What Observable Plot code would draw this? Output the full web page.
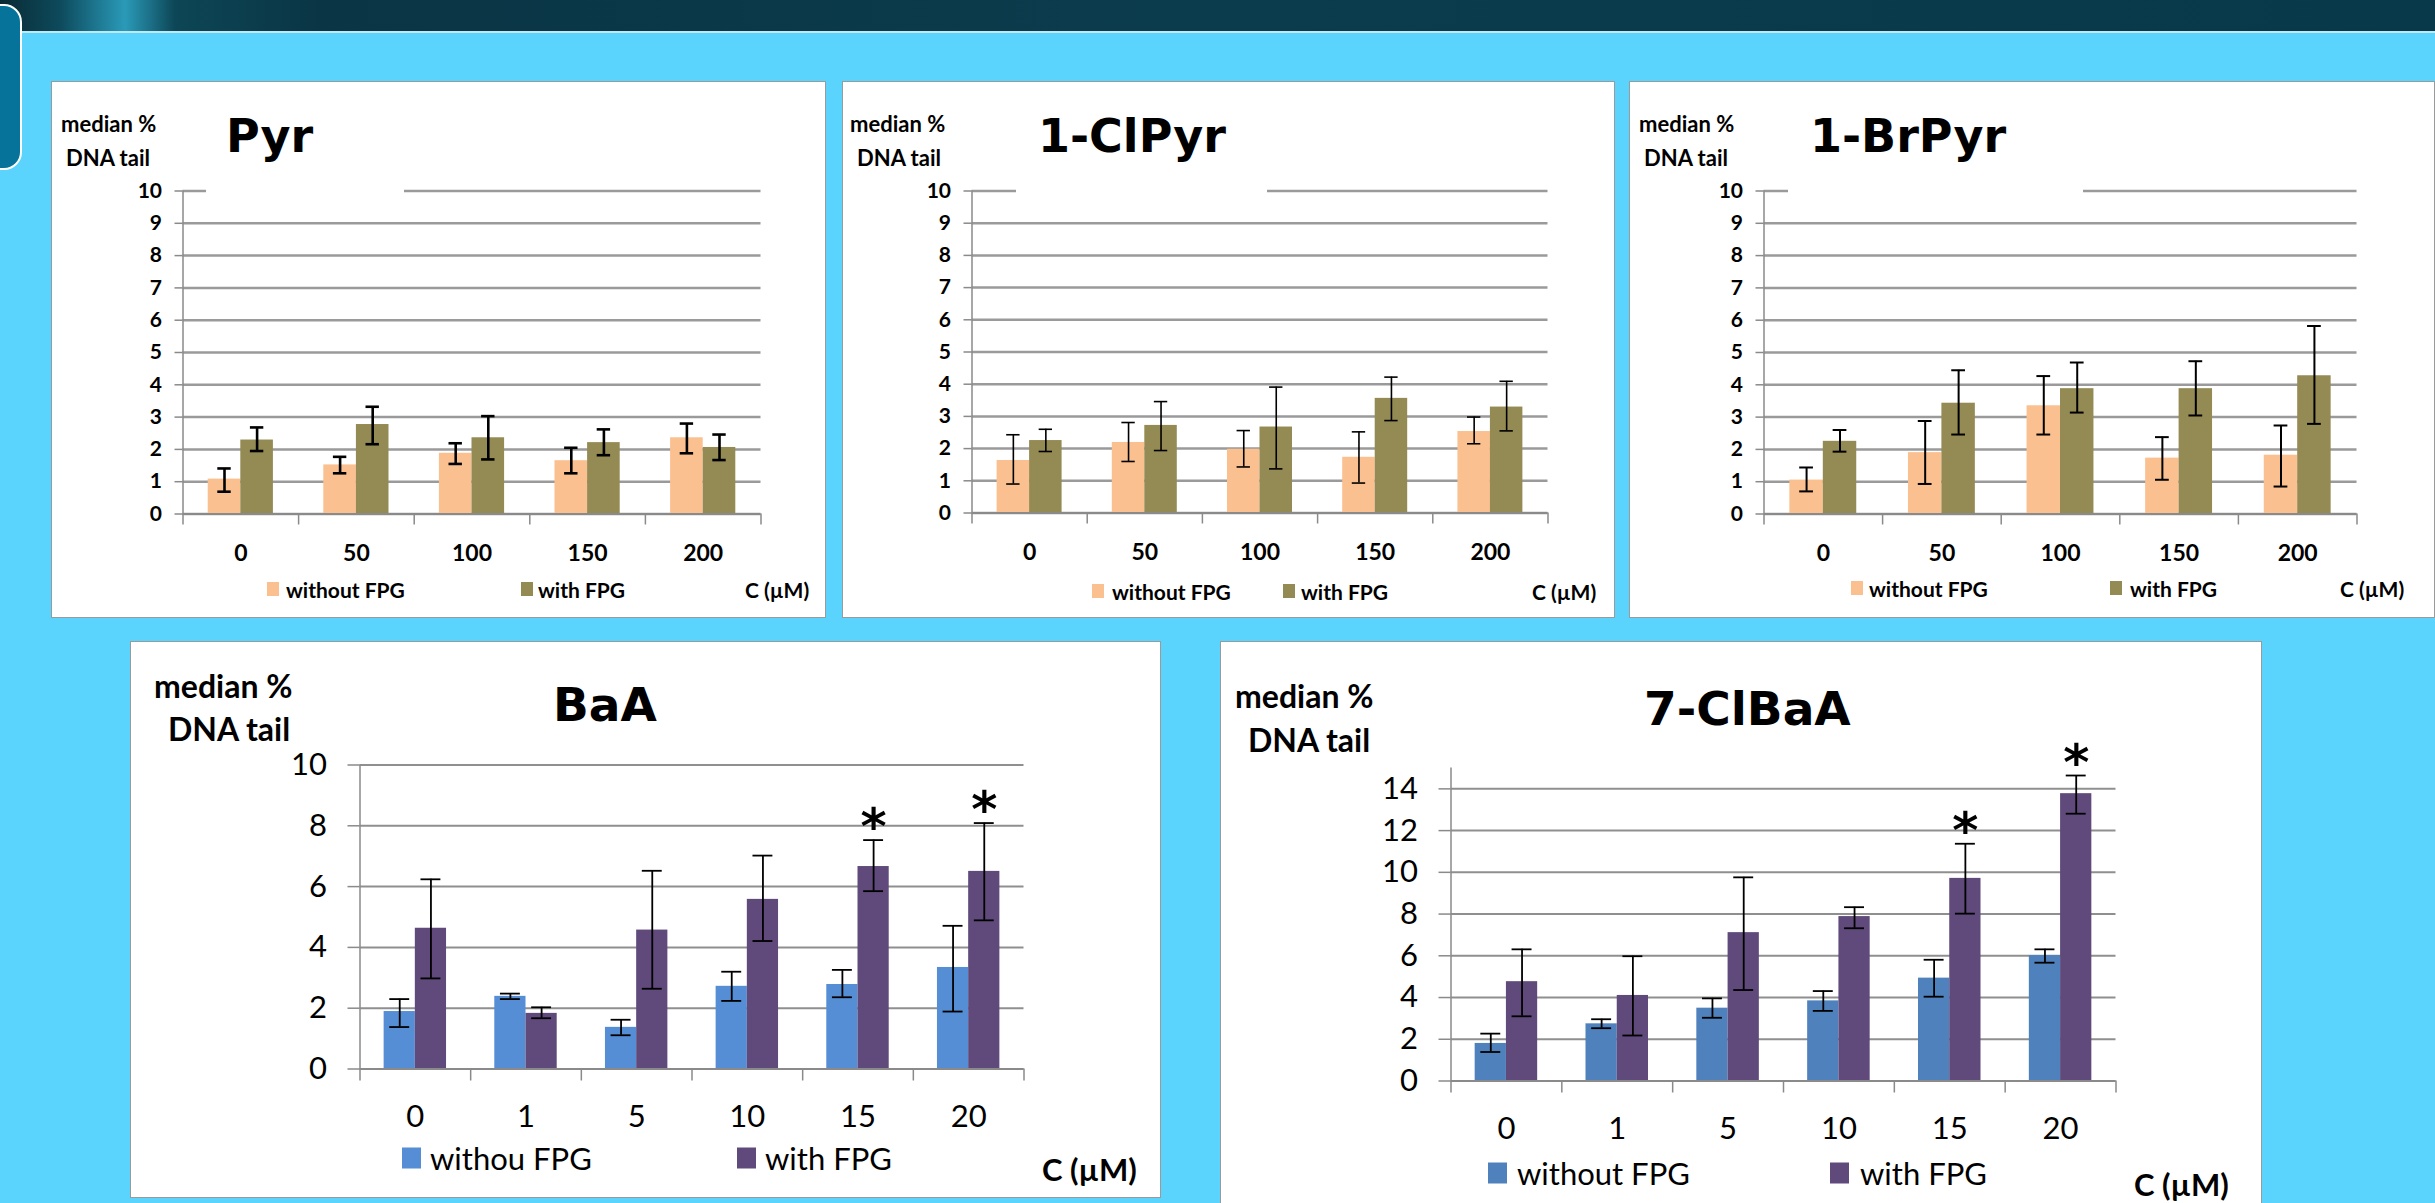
<!DOCTYPE html>
<html><head><meta charset="utf-8">
<script src="https://cdn.jsdelivr.net/npm/d3@7"></script>
<script src="https://cdn.jsdelivr.net/npm/@observablehq/plot@0.6"></script>
<style>
body{margin:0;width:2435px;height:1203px;overflow:hidden;background:#5bd4fd;position:relative;font-family:Lato,sans-serif;color:#000}
.header{position:absolute;left:0;top:0;width:2435px;height:31px;background:linear-gradient(90deg,#0a2a33 0px,#0d4a5c 60px,#2a9ab8 125px,#0d4656 175px,#0a3545 320px,#0b3c4d 1200px,#08394a 2435px);border-bottom:2px solid #bfe9f7}
.tab{position:absolute;left:-30px;top:4px;width:48px;height:162px;background:#06749a;border:2.5px solid #fff;border-radius:18px}
.panel{position:absolute;background:#fff;border:1.5px solid #9a9a9a;box-sizing:border-box;overflow:hidden}
.panel svg{position:absolute;left:0;top:0}
.t{position:absolute;white-space:nowrap;line-height:1;transform:translateY(-50%)}
.box{position:absolute;background:#fff}
.sw{position:absolute;transform:translateY(-50%)}
</style></head>
<body>
<div class="header"></div>
<div class="tab"></div>
<script>
// ---------------- DATA ----------------
const topCats = ["0", "50", "100", "150", "200"];
const bottomCats = ["0", "1", "5", "10", "15", "20"];

const pyrWithout = [1.08, 1.52, 1.88, 1.65, 2.36];
const pyrWithoutErr = [[0.69, 1.41], [1.26, 1.77], [1.55, 2.19], [1.26, 2.05], [1.88, 2.80]];
const pyrWith = [2.29, 2.77, 2.36, 2.21, 2.06];
const pyrWithErr = [[1.95, 2.68], [2.16, 3.32], [1.69, 3.03], [1.82, 2.62], [1.67, 2.46]];

const clPyrWithout = [1.63, 2.19, 1.98, 1.73, 2.53];
const clPyrWithoutErr = [[0.90, 2.43], [1.60, 2.81], [1.43, 2.56], [0.93, 2.52], [2.15, 2.98]];
const clPyrWith = [2.25, 2.72, 2.67, 3.56, 3.29];
const clPyrWithErr = [[1.91, 2.60], [1.94, 3.46], [1.37, 3.91], [2.87, 4.22], [2.55, 4.09]];

const brPyrWithout = [1.05, 1.90, 3.35, 1.73, 1.82];
const brPyrWithoutErr = [[0.70, 1.44], [0.93, 2.88], [2.46, 4.27], [1.06, 2.38], [0.85, 2.74]];
const brPyrWith = [2.25, 3.43, 3.88, 3.88, 4.28];
const brPyrWithErr = [[1.93, 2.60], [2.46, 4.45], [3.14, 4.69], [3.05, 4.73], [2.79, 5.82]];

const baaWithout = [1.89, 2.39, 1.37, 2.72, 2.78, 3.34];
const baaWithoutErr = [[1.38, 2.30], [2.30, 2.48], [1.11, 1.62], [2.24, 3.20], [2.36, 3.26], [1.89, 4.71]];
const baaWith = [4.63, 1.83, 4.57, 5.58, 6.66, 6.50];
const baaWithErr = [[2.98, 6.24], [1.67, 2.03], [2.64, 6.52], [4.21, 7.02], [5.85, 7.53], [4.89, 8.09]];
const baaStars = [0, 0, 0, 0, 1, 1];

const clBaaWithout = [1.80, 2.74, 3.49, 3.84, 4.93, 6.01];
const clBaaWithoutErr = [[1.39, 2.27], [2.53, 2.96], [3.03, 3.96], [3.36, 4.31], [4.04, 5.81], [5.67, 6.31]];
const clBaaWith = [4.76, 4.10, 7.11, 7.88, 9.71, 13.77];
const clBaaWithErr = [[3.10, 6.31], [2.18, 5.98], [4.36, 9.76], [7.32, 8.33], [8.02, 11.37], [12.81, 14.64]];
const clBaaStars = [0, 0, 0, 0, 1, 1];

const titles = ["Pyr", "1-ClPyr", "1-BrPyr", "BaA", "7-ClBaA"];
const yLabel = ["median %", "DNA tail"];
const legendTop = ["without FPG", "with FPG"];
const legendBaA = ["withou FPG", "with FPG"];
const legendClBaA = ["without FPG", "with FPG"];
const unitLabel = "C (\u00b5M)";
const ticks10 = [0,1,2,3,4,5,6,7,8,9,10];
const ticksBaA = [0,2,4,6,8,10];
const ticksClBaA = [0,2,4,6,8,10,12,14];

// ---------------- STYLE / LAYOUT ----------------
const topStyle = {tickFont: 21, tickWeight: "bold", catFont: 23, catWeight: "bold", yTickSize: 8, yTickPad: 13, xTickSize: 11, catPad: 31,
  gridW: 2.5, grid: "#9a9a9a", axis: "#8a8a8a", cap: 0.058, labFont: 22, legFont: 21, legWeight: "bold", swW: 12, swH: 14, titleFont: 46,
  colors: ["#fac090", "#948a54"]};
const botStyle = {tickFont: 31, tickWeight: "normal", catFont: 31, catWeight: "normal", yTickSize: 12, yTickPad: 21, xTickSize: 12, catPad: 36,
  gridW: 2, grid: "#8f8f8f", axis: "#8a8a8a", cap: 0.09, labFont: 32, legFont: 31, legWeight: "normal", swW: 19, swH: 21, titleFont: 47};

const panels = [
  {st: topStyle, cats: topCats, w: pyrWithout, we: pyrWithoutErr, f: pyrWith, fe: pyrWithErr, yTop: 10, ticks: ticks10, title: titles[0], legend: legendTop, errW: 2.6,
   box: [51, 81, 775, 537], plot: [183, 761, 191, 514], lab: [[60, 123], [65, 157]], ttl: [225, 135], tbox: [205, 403, 108, 200],
   leg: {cy: 588, sw1: 266, t1: 285, sw2: 520, t2: 537, u: 744, ucy: 588}},
  {st: topStyle, cats: topCats, w: clPyrWithout, we: clPyrWithoutErr, f: clPyrWith, fe: clPyrWithErr, yTop: 10, ticks: ticks10, title: titles[1], legend: legendTop, errW: 1.6,
   box: [842, 81, 773, 537], plot: [972, 1548, 191, 513], lab: [[849, 123], [856, 157]], ttl: [1037, 135], tbox: [1015, 1266, 108, 200],
   leg: {cy: 590, sw1: 1091, t1: 1111, sw2: 1282, t2: 1300, u: 1531, ucy: 590}},
  {st: topStyle, cats: topCats, w: brPyrWithout, we: brPyrWithoutErr, f: brPyrWith, fe: brPyrWithErr, yTop: 10, ticks: ticks10, title: titles[2], legend: legendTop, errW: 2,
   box: [1629, 81, 806, 537], plot: [1764, 2357, 191, 514], lab: [[1638, 123], [1643, 157]], ttl: [1809, 135], tbox: [1787, 2082, 108, 200],
   leg: {cy: 587, sw1: 1850, t1: 1868, sw2: 2109, t2: 2129, u: 2339, ucy: 587}},
  {st: {...botStyle, colors: ["#558ed5", "#604a7b"]}, cats: bottomCats, w: baaWithout, we: baaWithoutErr, f: baaWith, fe: baaWithErr, stars: baaStars, yTop: 10, ticks: ticksBaA, title: titles[3], legend: legendBaA, errW: 1.8,
   box: [130, 641, 1031, 557], plot: [360, 1024, 765, 1069], lab: [[153, 685], [167, 728]], ttl: [552, 703], tbox: null,
   leg: {cy: 1157, sw1: 401, t1: 429, sw2: 736, t2: 764, u: 1041, ucy: 1168}},
  {st: {...botStyle, colors: ["#4f81bd", "#604a7b"]}, cats: bottomCats, w: clBaaWithout, we: clBaaWithoutErr, f: clBaaWith, fe: clBaaWithErr, stars: clBaaStars, yTop: 15, ticks: ticksClBaA, title: titles[4], legend: legendClBaA, errW: 1.8,
   box: [1220, 641, 1042, 565], plot: [1451, 2116, 768, 1081], lab: [[1234, 695], [1247, 739]], ttl: [1643, 707], tbox: null,
   leg: {cy: 1172, sw1: 1487, t1: 1516, sw2: 1829, t2: 1859, u: 2133, ucy: 1183}}
];

function addText(parent, p, txt, x, cy, fs, weight, family) {
  const d = document.createElement("div");
  d.className = "t";
  d.textContent = txt;
  d.style.left = (x - p.box[0]) + "px";
  d.style.top = (cy - p.box[1]) + "px";
  d.style.fontSize = fs + "px";
  d.style.fontWeight = weight;
  if (family) d.style.fontFamily = family;
  parent.appendChild(d);
  return d;
}

function build(p) {
  const st = p.st;
  const [L, T, W, H] = p.box;
  const div = document.createElement("div");
  div.className = "panel";
  Object.assign(div.style, {left: L + "px", top: T + "px", width: W + "px", height: H + "px"});
  document.body.appendChild(div);

  const n = p.cats.length;
  const rows = [];
  p.cats.forEach((c, i) => {
    rows.push({i, s: 0, v: p.w[i], lo: p.we[i][0], hi: p.we[i][1], star: 0});
    rows.push({i, s: 1, v: p.f[i], lo: p.fe[i][0], hi: p.fe[i][1], star: p.stars ? p.stars[i] : 0});
  });
  const hw = 0.282;
  const xc = d => d.i + 0.5 + (d.s === 0 ? -hw / 2 : hw / 2);
  const cap = st.cap;

  const chart = Plot.plot({
    width: W - 3, height: H - 3,
    marginLeft: p.plot[0] - L - 1.5, marginRight: (L + W) - p.plot[1] - 1.5,
    marginTop: p.plot[2] - T - 1.5, marginBottom: (T + H) - p.plot[3] - 1.5,
    x: {domain: [0, n], axis: null},
    y: {domain: [0, p.yTop], axis: null},
    style: {background: "transparent", fontFamily: "Lato, sans-serif", color: "#000", overflow: "visible"},
    marks: [
      Plot.gridY({ticks: p.ticks, stroke: st.grid, strokeOpacity: 1, strokeWidth: st.gridW}),
      Plot.ruleX([0], {y1: 0, y2: p.yTop, stroke: st.axis, strokeWidth: 1.5}),
      Plot.axisY({ticks: p.ticks, tickSize: st.yTickSize, tickPadding: st.yTickPad, fontSize: st.tickFont, fontWeight: st.tickWeight, stroke: st.axis, strokeWidth: 1.5, label: null}),
      Plot.axisX({ticks: d3.range(n + 1), tickSize: st.xTickSize, tickFormat: () => "", stroke: st.axis, strokeWidth: 1.5, label: null}),
      Plot.axisX({ticks: d3.range(n).map(i => i + 0.5), tickSize: 0, tickPadding: st.catPad, tickFormat: t => p.cats[Math.floor(t)], fontSize: st.catFont, fontWeight: st.catWeight, label: null}),
      Plot.rectY(rows.filter(d => d.s === 0), {x1: d => d.i + 0.5 - hw, x2: d => d.i + 0.5, y: "v", fill: st.colors[0]}),
      Plot.rectY(rows.filter(d => d.s === 1), {x1: d => d.i + 0.5, x2: d => d.i + 0.5 + hw, y: "v", fill: st.colors[1]}),
      Plot.ruleY([0], {stroke: st.axis, strokeWidth: 2}),
      Plot.ruleX(rows, {x: xc, y1: "lo", y2: "hi", stroke: "#000", strokeWidth: p.errW}),
      Plot.ruleY(rows, {y: "hi", x1: d => xc(d) - cap, x2: d => xc(d) + cap, stroke: "#000", strokeWidth: p.errW}),
      Plot.ruleY(rows, {y: "lo", x1: d => xc(d) - cap, x2: d => xc(d) + cap, stroke: "#000", strokeWidth: p.errW}),
      Plot.text(rows.filter(d => d.star), {x: xc, y: "hi", text: () => "*", lineAnchor: "bottom", dy: 4, fontSize: 50, fontWeight: "bold", fontFamily: "DejaVu Sans"})
    ]
  });
  div.appendChild(chart);

  // title (with white box covering top gridline for upper panels)
  if (p.tbox) {
    const b = document.createElement("div");
    b.className = "box";
    Object.assign(b.style, {left: (p.tbox[0] - L) + "px", width: (p.tbox[1] - p.tbox[0]) + "px", top: (p.tbox[2] - T) + "px", height: (p.tbox[3] - p.tbox[2]) + "px"});
    div.appendChild(b);
  }
  addText(div, p, p.title, p.ttl[0], p.ttl[1], st.titleFont, "bold", "'DejaVu Sans', sans-serif");
  addText(div, p, yLabel[0], p.lab[0][0], p.lab[0][1], st.labFont, "bold");
  addText(div, p, yLabel[1], p.lab[1][0], p.lab[1][1], st.labFont, "bold");

  // legend
  const lg = p.leg;
  [[lg.sw1, st.colors[0]], [lg.sw2, st.colors[1]]].forEach(([x, c]) => {
    const s = document.createElement("div");
    s.className = "sw";
    Object.assign(s.style, {left: (x - L) + "px", top: (lg.cy - T) + "px", width: st.swW + "px", height: st.swH + "px", background: c});
    div.appendChild(s);
  });
  addText(div, p, p.legend[0], lg.t1, lg.cy, st.legFont, st.legWeight);
  addText(div, p, p.legend[1], lg.t2, lg.cy, st.legFont, st.legWeight);
  addText(div, p, unitLabel, lg.u, lg.ucy, st.legFont, "bold");
}

panels.forEach(build);
</script>
</body></html>
